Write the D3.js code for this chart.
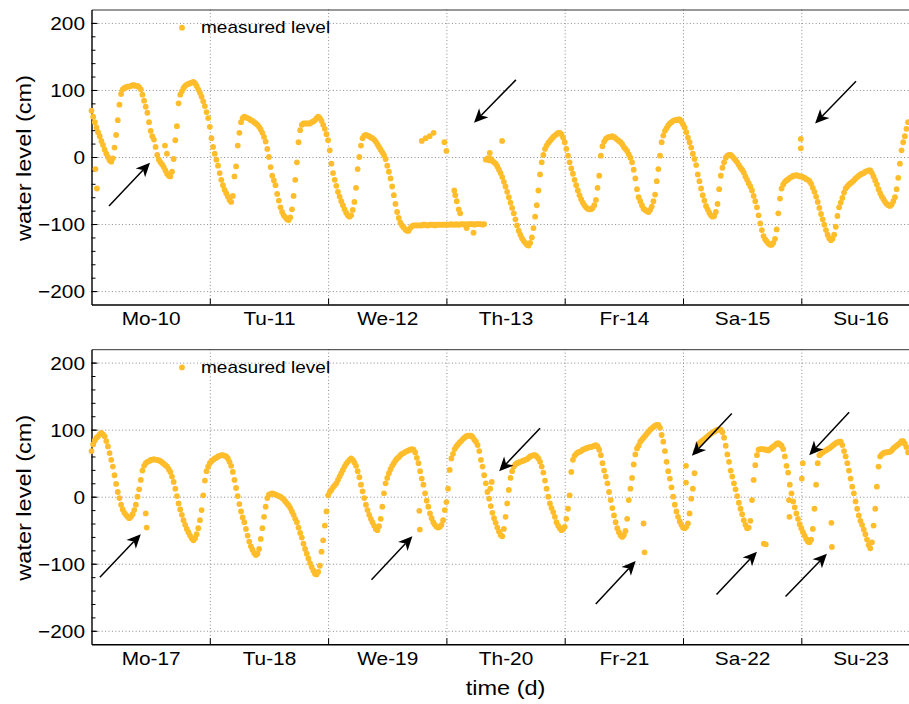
<!DOCTYPE html>
<html><head><meta charset="utf-8">
<script src="https://cdn.jsdelivr.net/npm/d3@7"></script>
<style>
html,body{margin:0;padding:0;background:#fff;}
svg{display:block;}
</style></head><body>
<svg id="chart" width="909" height="704"></svg>
<script>
// ---------------- DATA ----------------
// water level (cm), one value every 20 minutes, one array per day
const dayLabels1 = ["Mo-10","Tu-11","We-12","Th-13","Fr-14","Sa-15","Su-16"];
const dayLabels2 = ["Mo-17","Tu-18","We-19","Th-20","Fr-21","Sa-22","Su-23"];
const yTickValues = [-200,-100,0,100,200];
const legendLabel = "measured level";
const yAxisTitle = "water level (cm)";
const xAxisTitle = "time (d)";

// Week 1
const mo10 = [69,60,52,44,37,31,24,18,11,5,0,-5,
 -7,-2,14,33,55,78,94,101,103,104,105,105,
 106,107,107,106,106,104,101,93,84,75,66,52,
 39,31,26,15,3,-4,-8,-11,-15,-20,-25,-28,
 -29,-22,-3,25,46,80,93,98,103,106,108,109,
 110,111,112,110,106,101,96,90,83,76,67,58];
const tu11 = [45,28,15,5,-4,-13,-24,-34,-42,-49,-54,-59,
 -64,-67,-58,-29,-14,17,36,52,58,60,59,58,
 57,55,54,52,50,48,45,41,36,30,23,12,
 0,-15,-28,-35,-42,-55,-65,-75,-82,-87,-90,-93,
 -94,-90,-78,-58,-34,-8,22,40,48,50,50,50,
 50,50,52,53,55,58,60,58,54,48,42,34];
const we12 = [25,10,-10,-24,-34,-43,-52,-59,-66,-72,-78,-83,
 -87,-89,-87,-79,-67,-46,-18,0,17,28,32,33,
 32,31,29,28,26,23,19,15,11,7,3,-3,
 -13,-22,-32,-44,-57,-70,-82,-91,-98,-102,-105,-108,
 -110,-110,-106,-103,-102,-102,-102,-102,-102,-102,-101,-101,
 -102,-102,-101,-101,-101,-102,-101,-101,-101,-101,-101,-101];
const th13 = [-101,-101,-101,-100,-101,-101,-100,-101,-101,-100,-100,-101,
 -100,-101,-100,-100,-100,-101,-100,-100,-100,-100,-101,-100,
 -4,-2,-5,-3,-6,-8,-10,-14,-19,-24,-30,-37,
 -44,-52,-60,-68,-76,-84,-93,-102,-110,-116,-121,-125,
 -128,-131,-132,-128,-120,-106,-89,-72,-50,-26,-8,3,
 12,17,21,24,27,30,32,34,36,36,34,29];
const fr14 = [22,12,2,-8,-17,-25,-34,-42,-50,-57,-63,-68,
 -72,-75,-77,-78,-78,-76,-72,-64,-46,-28,2,16,
 23,27,29,30,30,31,30,28,26,24,22,19,
 15,12,9,4,-1,-8,-19,-32,-48,-60,-66,-72,
 -77,-79,-81,-82,-79,-74,-66,-56,-36,-18,2,22,
 32,39,43,47,50,52,54,55,55,56,56,53];
const sa15 = [49,44,37,29,22,14,5,-3,-12,-26,-36,-47,
 -57,-65,-73,-78,-83,-87,-89,-88,-82,-70,-48,-28,
 -16,-8,-1,2,3,3,1,-2,-5,-8,-12,-16,
 -19,-23,-29,-34,-39,-44,-50,-58,-66,-75,-87,-99,
 -109,-118,-123,-126,-129,-131,-131,-128,-122,-108,-84,-62,
 -47,-41,-37,-35,-33,-31,-30,-28,-28,-27,-28,-29];
const su16 = [-29,-30,-31,-33,-34,-36,-40,-46,-52,-59,-67,-76,
 -85,-93,-101,-109,-116,-121,-124,-122,-116,-104,-88,-75,
 -68,-61,-53,-47,-44,-41,-39,-37,-35,-32,-30,-28,
 -26,-25,-24,-22,-21,-20,-20,-24,-29,-35,-41,-48,
 -54,-59,-63,-67,-70,-72,-73,-71,-66,-60,-48,-31,
 -10,10,22,31,42,52];
// isolated readings of week 1: [hour since Mo-10 00:00, level]
const outliers1 = [[0.8,-18],[1.1,-47],[14.9,17],[15.3,5],
 [67.0,24],[67.8,28],[68.6,31],[69.4,36],[71.6,22],[72.0,9],
 [73.6,-50],[73.8,-57],[74.1,-66],[74.5,-78],[74.8,-84],
 [76.1,-106],[77.5,-113],[80.8,6],[83.3,24],[143.9,27],[143.9,13]];
// arrows of week 1: [tail hour, tail level, tip hour, tip level]
const arrows1 = [[3.55,-73,11.87,-8.5],[86.1,115,77.6,51],[155.1,113,146.8,50]];

// Week 2
const mo17 = [68,78,84,88,90,93,95,93,90,83,75,65,
 55,45,32,19,7,-2,-12,-19,-24,-27,-30,-32,
 -30,-26,-20,-12,0,11,25,39,46,50,52,53,
 55,55,56,55,55,54,53,51,49,47,45,41,
 37,30,22,12,1,-10,-19,-27,-35,-42,-48,-53,
 -58,-62,-65,-62,-56,-47,-35,-20,2,24,38,45];
const tu18 = [50,53,55,57,58,60,61,62,62,61,60,57,
 52,46,37,25,13,1,-11,-22,-31,-38,-48,-58,
 -67,-74,-79,-84,-87,-85,-78,-63,-47,-30,-15,-2,
 3,4,5,4,3,2,1,0,-2,-4,-7,-10,
 -13,-17,-22,-27,-33,-38,-46,-54,-61,-70,-78,-85,
 -92,-99,-105,-110,-115,-116,-112,-103,-82,-65,-43,-22];
const we19 = [2,7,10,14,17,20,25,30,35,40,45,49,
 52,55,57,55,51,46,38,29,18,8,-2,-12,
 -20,-27,-33,-38,-43,-48,-50,-44,-33,-15,5,20,
 28,35,41,46,50,54,57,59,62,64,65,67,
 68,69,70,71,70,66,58,50,38,27,18,5,
 -6,-15,-25,-32,-38,-42,-45,-46,-45,-42,-35,-20];
const th20 = [-8,12,40,57,64,71,75,78,81,83,86,88,
 90,91,91,91,89,85,82,77,68,55,45,32,
 20,7,-3,-14,-24,-32,-39,-46,-52,-57,-59,-48,
 -30,-10,10,28,38,45,48,50,51,52,53,54,
 55,56,58,60,61,62,62,60,57,52,45,36,
 24,12,0,-10,-17,-23,-30,-38,-43,-47,-50,-48];
const fr21 = [-45,-33,-18,2,37,55,61,64,66,67,68,70,
 71,72,73,74,74,75,76,77,75,70,62,50,
 39,30,20,7,-5,-17,-28,-38,-47,-53,-58,-60,
 -57,-51,-33,-5,12,28,48,63,72,76,82,85,
 88,91,94,97,100,102,104,106,107,107,103,92,
 82,68,52,38,27,14,0,-12,-22,-30,-37,-42];
const sa22 = [-46,-47,-45,-40,-25,-3,12,35,68,78,80,82,
 84,86,88,90,92,94,96,97,99,100,100,100,
 96,88,76,63,52,39,30,20,11,1,-9,-18,
 -26,-35,-42,-47,-46,-36,-5,25,47,62,70,71,
 71,71,70,70,69,71,73,75,77,79,80,78,
 76,71,60,46,36,18,5,-7,-16,-25,-33,-41];
const su23 = [-47,-53,-58,-63,-67,-68,-64,-48,-18,18,50,62,
 64,66,68,69,71,72,74,76,78,80,81,82,
 82,77,68,60,50,39,27,15,5,-7,-18,-28,
 -36,-42,-49,-56,-64,-72,-77,-68,-43,-18,15,45,
 60,63,65,66,66,67,67,69,72,74,76,78,
 80,83,83,79,74,66];
const outliers2 = [[11.0,-25],[11.2,-46],[66.5,-21],[66.6,-49],[80.9,12],[81.2,22],
 [112.0,-40],[112.2,-83],[120.6,46],[120.6,21],[136.4,-70],[136.8,-71],
 [141.5,-5],[141.6,-30],[144.1,27],[144.3,50],[150.1,-39],[150.2,-75]];
const arrows2 = [[1.7,-120,10.0,-56],[56.8,-124,65.1,-59],[91.0,102,82.7,38],
 [102.3,-160,110.4,-96],[129.9,124,121.8,61],[126.8,-146,135.0,-82],
 [153.7,126,145.6,62],[140.8,-149,149.2,-85]];

// ---------------- CHART ----------------
const STEP_H = 1/3;            // sampling interval: 20 minutes
const FONT = '"Liberation Sans", Arial, Helvetica, sans-serif';
const DOT = "#ffbd2b";
const STRETCH = 1.12;
const X0 = 91.5, X1 = 919.6;
const svg = d3.select("#chart");
svg.append("rect").attr("width",909).attr("height",704).attr("fill","#fff");

const x = d3.scaleLinear().domain([0,168]).range([X0,X1]);
const dayTicks = d3.range(24,168,24);
const noonTicks = d3.range(12,168,24);

function stretch(sel){
  sel.each(function(){
    const L = this.getComputedTextLength();
    this.setAttribute("textLength", L*STRETCH);
    this.setAttribute("lengthAdjust","spacingAndGlyphs");
  });
}

function toPoints(days){
  const pts = [];
  days.forEach((arr,d)=>arr.forEach((v,i)=>pts.push({t:d*24+i*STEP_H, v})));
  return pts;
}

const panels = [
  {top:9.5, bottom:304.5, labels:dayLabels1, days:[mo10,tu11,we12,th13,fr14,sa15,su16], outliers:outliers1, arrows:arrows1},
  {top:349.2, bottom:644.2, labels:dayLabels2, days:[mo17,tu18,we19,th20,fr21,sa22,su23], outliers:outliers2, arrows:arrows2}
];

panels.forEach(p=>{
  const y = d3.scaleLinear().domain([-220,220]).range([p.bottom,p.top]);
  const g = svg.append("g");

  // grid
  const gh = g.append("g").attr("transform",`translate(${X0},0)`)
    .call(d3.axisLeft(y).tickValues(yTickValues).tickSize(-(X1-X0)).tickFormat(""));
  gh.select(".domain").remove();
  gh.selectAll("line").attr("stroke","#8a8a8a").attr("stroke-width",1).attr("stroke-dasharray","1,2.4");
  const gv = g.append("g").attr("transform",`translate(0,${p.top})`)
    .call(d3.axisBottom(x).tickValues(dayTicks).tickSize(p.bottom-p.top).tickFormat(""));
  gv.select(".domain").remove();
  gv.selectAll("line").attr("stroke","#8a8a8a").attr("stroke-width",1).attr("stroke-dasharray","1,2.4");

  // frame top
  g.append("g").attr("transform",`translate(0,${p.top})`)
    .call(d3.axisTop(x).tickValues([]).tickSizeOuter(0))
    .select(".domain").attr("stroke","#333").attr("stroke-width",1);

  // minor y ticks
  const gm = g.append("g").attr("transform",`translate(${X0},0)`)
    .call(d3.axisLeft(y).tickValues(d3.range(-200,201,20)).tickSize(-4).tickFormat(""));
  gm.select(".domain").remove();
  gm.selectAll("line").attr("stroke","#000").attr("stroke-width",1);

  // major y axis
  const gy = g.append("g").attr("transform",`translate(${X0},0)`)
    .call(d3.axisLeft(y).tickValues(yTickValues).tickSizeInner(-6).tickSizeOuter(0).tickPadding(6.5));
  gy.attr("font-family",null).attr("font-size",null);
  gy.select(".domain").attr("stroke","#000").attr("stroke-width",1.4);
  gy.selectAll("line").attr("stroke","#000").attr("stroke-width",1);
  gy.selectAll("text").style("font-family",FONT).style("font-size","18.6px").attr("fill","#000").attr("dy","0.36em");
  stretch(gy.selectAll("text"));

  // x axis
  const gx = g.append("g").attr("transform",`translate(0,${p.bottom})`)
    .call(d3.axisBottom(x).tickValues(dayTicks).tickSizeInner(-6).tickSizeOuter(0).tickFormat(""));
  gx.select(".domain").attr("stroke","#000").attr("stroke-width",1.4);
  gx.selectAll("line").attr("stroke","#000").attr("stroke-width",1);
  const gxl = g.append("g").attr("transform",`translate(0,${p.bottom})`)
    .call(d3.axisBottom(x).tickValues(noonTicks).tickSize(0).tickPadding(7.3).tickFormat((d,i)=>p.labels[i]));
  gxl.attr("font-family",null).attr("font-size",null);
  gxl.select(".domain").remove();
  gxl.selectAll("text").style("font-family",FONT).style("font-size","18.6px").attr("fill","#000");
  stretch(gxl.selectAll("text"));

  // y title
  const yt = g.append("text")
    .attr("transform",`translate(23,${(p.top+p.bottom)/2+1}) rotate(-90)`)
    .attr("text-anchor","middle").attr("dominant-baseline","central")
    .style("font-family",FONT).style("font-size","21px").text(yAxisTitle);
  stretch(yt);

  // dots
  const pts = toPoints(p.days);
  g.append("g").selectAll("circle").data(pts).join("circle")
    .attr("cx",d=>x(d.t)).attr("cy",d=>y(d.v)).attr("r",2.9).attr("fill",DOT);
  g.append("g").selectAll("circle").data(p.outliers).join("circle")
    .attr("cx",d=>x(d[0])).attr("cy",d=>y(d[1])).attr("r",2.9).attr("fill",DOT);

  // legend
  g.append("circle").attr("cx",182).attr("cy",p.top+18.2).attr("r",2.9).attr("fill",DOT);
  const lt = g.append("text").attr("x",201).attr("y",p.top+23.8)
    .style("font-family",FONT).style("font-size","17px").text(legendLabel);
  stretch(lt);

  // arrows
  const ga = g.append("g");
  p.arrows.forEach(a=>{
    const x0=x(a[0]), y0=y(a[1]), x1=x(a[2]), y1=y(a[3]);
    const dx=x1-x0, dy=y1-y0, len=Math.hypot(dx,dy);
    const ux=dx/len, uy=dy/len, nx=-uy, ny=ux;
    const L=14, HW=6.5, N=0.72*L;
    const bx=x1-ux*L, by=y1-uy*L;
    ga.append("line").attr("x1",x0).attr("y1",y0).attr("x2",x1-ux*N).attr("y2",y1-uy*N)
      .attr("stroke","#000").attr("stroke-width",1.5);
    ga.append("path")
      .attr("d",`M${x1},${y1}L${bx+nx*HW},${by+ny*HW}L${x1-ux*N},${y1-uy*N}L${bx-nx*HW},${by-ny*HW}Z`)
      .attr("fill","#000");
  });
});

// x title
const xt = svg.append("text").attr("x",(X0+X1)/2).attr("y",695)
  .attr("text-anchor","middle")
  .style("font-family",FONT).style("font-size","21px").text(xAxisTitle);
stretch(xt);
</script>
</body></html>
